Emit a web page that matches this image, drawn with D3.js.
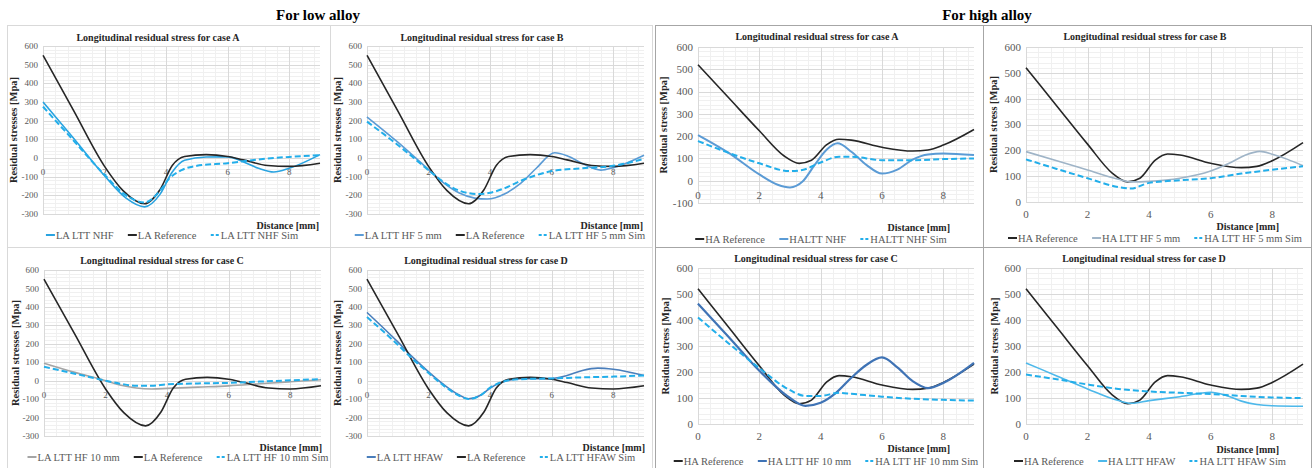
<!DOCTYPE html>
<html>
<head>
<meta charset="utf-8">
<script src="https://cdn.jsdelivr.net/npm/d3@7"></script>
<style>
  body { margin: 0; background: #fff; }
  svg { display: block; font-family: "Liberation Serif", "Times New Roman", serif; }
</style>
</head>
<body>
<div id="chart"></div>
<script>
// axis ticks
const xTicks = [0, 2, 4, 6, 8];
const laStressTicks = [-300, -200, -100, 0, 100, 200, 300, 400, 500, 600];
const haStressTicksA = [-100, 0, 100, 200, 300, 400, 500, 600];
const haStressTicks = [0, 100, 200, 300, 400, 500, 600];

// low alloy: [distance mm, stress MPa]
const laReference = [[0, 550], [1, 252], [2, -45], [2.6, -175], [3.3, -245], [3.8, -170], [4.2, -40], [4.6, 8], [5.3, 18], [6, 8], [6.5, -10], [7.3, -40], [8, -45], [9, -28]];
const laNhf = [[0, 300], [1, 105], [2, -95], [2.7, -215], [3.3, -262], [3.8, -195], [4.2, -75], [4.6, -12], [5.3, 5], [6, 6], [6.5, -20], [7, -55], [7.5, -75], [8, -55], [9, 18]];
const laNhfSim = [[0, 275], [1, 92], [2, -90], [2.7, -200], [3.3, -238], [3.8, -175], [4.1, -110], [4.5, -65], [5, -42], [6, -28], [7, -8], [8, 6], [9, 15]];
const laHf5 = [[0, 220], [1, 85], [2, -62], [2.5, -135], [3, -188], [3.5, -215], [3.9, -220], [4.5, -190], [5, -135], [5.5, -55], [6.1, 28], [6.5, 12], [7, -30], [7.6, -65], [8, -52], [9, 15]];
const laHf5Sim = [[0, 195], [1, 70], [2, -65], [2.5, -130], [3, -175], [3.6, -193], [4, -186], [4.5, -160], [5, -122], [5.5, -92], [6, -70], [7, -55], [8, -42], [9, -5]];
const laHf10 = [[0, 95], [1, 45], [2, 0], [2.5, -25], [3, -40], [3.5, -45], [4, -42], [5, -35], [6, -28], [7, -17], [8, -6], [9, 5]];
const laHf10Sim = [[0, 75], [1, 38], [2, 0], [2.5, -17], [3, -28], [3.5, -28], [4, -20], [5, -15], [6, -12], [7, -5], [8, 2], [9, 8]];
const laHfaw = [[0, 370], [1, 210], [1.5, 125], [2, 48], [2.5, -22], [3, -78], [3.3, -98], [3.7, -78], [4, -40], [4.5, -2], [5, 10], [6, 12], [6.5, 28], [7, 55], [7.5, 68], [8, 62], [9, 28]];
const laHfawSim = [[0, 345], [1, 195], [1.5, 115], [2, 42], [2.5, -28], [3, -82], [3.3, -100], [3.7, -78], [4, -38], [4.5, -2], [5, 8], [6, 12], [7, 18], [8, 22], [9, 28]];

// high alloy
const haReference = [[0, 520], [1, 372], [2, 224], [2.8, 112], [3.3, 78], [3.7, 92], [4.2, 162], [4.6, 186], [5, 182], [6, 150], [7, 133], [7.5, 138], [8, 160], [9, 230]];
const haNhf = [[0, 205], [1, 125], [2, 28], [2.6, -18], [3, -30], [3.4, -5], [3.8, 70], [4.2, 140], [4.55, 168], [5, 130], [5.5, 70], [6, 32], [6.5, 50], [7, 95], [7.5, 118], [8, 122], [9, 115]];
const haNhfSim = [[0, 178], [1, 125], [2, 78], [3, 43], [3.4, 48], [4, 82], [4.6, 108], [5, 108], [6, 92], [7, 92], [8, 97], [9, 100]];
const haHf5 = [[0, 195], [1, 160], [2, 124], [3, 88], [3.4, 78], [4, 80], [5, 92], [6, 120], [6.6, 150], [7.1, 180], [7.6, 196], [8, 185], [8.5, 165], [9, 140]];
const haHf5Sim = [[0, 165], [1, 128], [2, 92], [3, 58], [3.4, 52], [4, 74], [5, 84], [6, 92], [7, 110], [8, 125], [9, 138]];
const haHf10 = [[0, 463], [1, 335], [2, 205], [3, 100], [3.5, 70], [4, 82], [4.5, 120], [5, 178], [5.5, 228], [6, 256], [6.5, 218], [7, 165], [7.5, 138], [8, 158], [9, 235]];
const haHf10Sim = [[0, 410], [1, 310], [2, 215], [3, 130], [3.5, 108], [4, 108], [4.6, 120], [5, 116], [6, 105], [7, 97], [8, 93], [9, 90]];
const haHfaw = [[0, 235], [1, 185], [2, 135], [3, 90], [3.4, 80], [4, 90], [5, 105], [6, 122], [6.5, 110], [7, 88], [7.5, 75], [8, 70], [9, 68]];
const haHfawSim = [[0, 190], [1, 172], [2, 152], [3, 135], [4, 125], [5, 120], [6, 115], [7, 108], [8, 102], [9, 100]];

const REF = '#262626';
const SIM = '#22aeea';

const solid = (name, data, color, width) => ({ name, data, color, width: width || 1.6, dash: null });
const dashed = (name, data) => ({ name, data, color: SIM, width: 2, dash: '6,3' });

const panels = [
  // low alloy
  { box: [7, 25, 330, 247], plot: [43, 320, 46, 214], y: [-300, 600], yTicks: laStressTicks, tickFont: 9, xLabelAtZero: true,
    title: 'Longitudinal residual stress for case A', titleX: 158, titleY: 37, yLabel: 'Residual stresses [Mpa]', yLabelX: 13,
    distX: 319, distY: 225, legendX: 172, legendY: 235,
    series: [solid('LA LTT NHF', laNhf, '#29a3e0'), solid('LA Reference', laReference, REF), dashed('LA LTT NHF Sim', laNhfSim)] },
  { box: [330, 25, 652, 247], plot: [367, 644, 46, 214], y: [-300, 600], yTicks: laStressTicks, tickFont: 9, xLabelAtZero: true,
    title: 'Longitudinal residual stress for case B', titleX: 482, titleY: 37, yLabel: 'Residual stresses [Mpa]', yLabelX: 337,
    distX: 643, distY: 225, legendX: 500, legendY: 235,
    series: [solid('LA LTT HF 5 mm', laHf5, '#5b9bd5'), solid('LA Reference', laReference, REF), dashed('LA LTT HF 5 mm Sim', laHf5Sim)] },
  { box: [7, 247, 330, 470], plot: [44, 321, 270, 436], y: [-300, 600], yTicks: laStressTicks, tickFont: 9, xLabelAtZero: true,
    title: 'Longitudinal residual stress for case C', titleX: 162, titleY: 260, yLabel: 'Residual stresses [Mpa]', yLabelX: 15,
    distX: 322, distY: 447, legendX: 178, legendY: 457,
    series: [solid('LA LTT HF 10 mm', laHf10, '#a5a5a5'), solid('LA Reference', laReference, REF), dashed('LA LTT HF 10 mm Sim', laHf10Sim)] },
  { box: [330, 247, 652, 470], plot: [367, 644, 270, 436], y: [-300, 600], yTicks: laStressTicks, tickFont: 9, xLabelAtZero: true,
    title: 'Longitudinal residual stress for case D', titleX: 486, titleY: 260, yLabel: 'Residual stresses [Mpa]', yLabelX: 337,
    distX: 645, distY: 447, legendX: 501, legendY: 457,
    series: [solid('LA LTT HFAW', laHfaw, '#4a7ebb'), solid('LA Reference', laReference, REF), dashed('LA LTT HFAW Sim', laHfawSim)] },
  // high alloy
  { box: [655, 25, 983, 247], plot: [698, 974, 47, 203], y: [-100, 600], yTicks: haStressTicksA, tickFont: 11, xLabelAtZero: true,
    title: 'Longitudinal residual stress for case A', titleX: 817, titleY: 36, yLabel: 'Residual stress [Mpa]', yLabelX: 663,
    distX: 950, distY: 227, legendX: 821, legendY: 239,
    series: [solid('HA Reference', haReference, REF), solid('HALTT NHF', haNhf, '#5b9bd5', 2), dashed('HALTT NHF Sim', haNhfSim)] },
  { box: [983, 25, 1311, 247], plot: [1026, 1303, 47, 202], y: [0, 600], yTicks: haStressTicks, tickFont: 11, xLabelAtZero: false,
    title: 'Longitudinal residual stress for case B', titleX: 1145, titleY: 36, yLabel: 'Residual stress [Mpa]', yLabelX: 993,
    distX: 1279, distY: 226, legendX: 1155, legendY: 238,
    series: [solid('HA Reference', haReference, REF), solid('HA LTT HF 5 mm', haHf5, '#9fb4c7'), dashed('HA LTT HF 5 mm Sim', haHf5Sim)] },
  { box: [655, 247, 983, 470], plot: [698, 974, 268, 424], y: [0, 600], yTicks: haStressTicks, tickFont: 11, xLabelAtZero: false,
    title: 'Longitudinal residual stress for case C', titleX: 816, titleY: 258, yLabel: 'Residual stress [Mpa]', yLabelX: 665,
    distX: 950, distY: 448, legendX: 826, legendY: 461,
    series: [solid('HA Reference', haReference, REF), solid('HA LTT HF 10 mm', haHf10, '#3f73b5', 2.2), dashed('HA LTT HF 10 mm Sim', haHf10Sim)] },
  { box: [983, 247, 1311, 470], plot: [1026, 1303, 268, 424], y: [0, 600], yTicks: haStressTicks, tickFont: 11, xLabelAtZero: false,
    title: 'Longitudinal residual stress for case D', titleX: 1144, titleY: 258, yLabel: 'Residual stress [Mpa]', yLabelX: 994,
    distX: 1279, distY: 449, legendX: 1150, legendY: 461,
    series: [solid('HA Reference', haReference, REF), solid('HA LTT HFAW', haHfaw, '#4db8ea'), dashed('HA LTT HFAW Sim', haHfawSim)] },
];

const svg = d3.select('#chart').append('svg').attr('width', 1314).attr('height', 468);

// group headings
svg.append('text').attr('x', 318).attr('y', 20).attr('text-anchor', 'middle')
  .attr('font-size', 15).attr('font-weight', 'bold').text('For low alloy');
svg.append('text').attr('x', 987).attr('y', 20).attr('text-anchor', 'middle')
  .attr('font-size', 15).attr('font-weight', 'bold').text('For high alloy');

function drawPanel(p, i) {
  const g = svg.append('g');
  const isHigh = i >= 4;
  const [bx0, by0, bx1, by1] = p.box;
  g.append('rect').attr('x', bx0 + 0.5).attr('y', by0 + 0.5).attr('width', bx1 - bx0).attr('height', by1 - by0)
    .attr('fill', 'none').attr('stroke', isHigh ? '#a6a6a6' : '#d9d9d9').attr('stroke-width', 1);

  const [l, r, t, b] = p.plot;
  const x = d3.scaleLinear().domain([0, 9]).range([l, r]);
  const y = d3.scaleLinear().domain(p.y).range([b, t]);

  // minor grid
  const minorX = d3.range(0, 9.001, 0.4).filter(v => v % 2 !== 0);
  const minorY = d3.range(p.y[0], p.y[1] + 1, 20);
  g.append('g').selectAll('line').data(minorX).join('line')
    .attr('x1', d => Math.round(x(d)) + 0.5).attr('x2', d => Math.round(x(d)) + 0.5).attr('y1', t).attr('y2', b)
    .attr('stroke', '#f0f0f0');
  g.append('g').selectAll('line').data(minorY).join('line')
    .attr('y1', d => Math.round(y(d)) + 0.5).attr('y2', d => Math.round(y(d)) + 0.5).attr('x1', l).attr('x2', r)
    .attr('stroke', '#f0f0f0');
  // major grid
  g.append('g').selectAll('line').data(xTicks).join('line')
    .attr('x1', d => Math.round(x(d)) + 0.5).attr('x2', d => Math.round(x(d)) + 0.5).attr('y1', t).attr('y2', b)
    .attr('stroke', '#d9d9d9');
  g.append('g').selectAll('line').data(p.yTicks).join('line')
    .attr('y1', d => Math.round(y(d)) + 0.5).attr('y2', d => Math.round(y(d)) + 0.5).attr('x1', l).attr('x2', r)
    .attr('stroke', '#d9d9d9');

  // y tick labels
  g.append('g').selectAll('text').data(p.yTicks).join('text')
    .attr('x', l - 5).attr('y', d => y(d)).attr('dy', '0.35em').attr('text-anchor', 'end')
    .attr('font-size', p.tickFont).attr('fill', '#595959').text(d => d);
  // x tick labels (at the zero line when the axis crosses there)
  const xLabelY = p.xLabelAtZero ? y(0) + 14 : b + 12;
  g.append('g').selectAll('text').data(xTicks).join('text')
    .attr('x', d => x(d)).attr('y', xLabelY).attr('dy', '0.35em').attr('text-anchor', 'middle')
    .attr('font-size', p.tickFont).attr('fill', '#595959').text(d => d);

  // titles
  g.append('text').attr('x', p.titleX).attr('y', p.titleY).attr('dy', '0.35em').attr('text-anchor', 'middle')
    .attr('font-size', 10).attr('font-weight', 'bold').attr('fill', '#262626').text(p.title);
  g.append('text').attr('transform', `translate(${p.yLabelX},${(t + b) / 2}) rotate(-90)`).attr('dy', '0.35em')
    .attr('text-anchor', 'middle').attr('font-size', 10.5).attr('font-weight', 'bold').attr('fill', '#262626').text(p.yLabel);
  g.append('text').attr('x', p.distX).attr('y', p.distY).attr('dy', '0.35em').attr('text-anchor', 'end')
    .attr('font-size', 10).attr('font-weight', 'bold').attr('fill', '#262626').text('Distance [mm]');

  // series
  const line = d3.line().x(d => x(d[0])).y(d => y(d[1])).curve(d3.curveMonotoneX);
  g.append('g').selectAll('path').data(p.series).join('path')
    .attr('d', d => line(d.data)).attr('fill', 'none')
    .attr('stroke', d => d.color).attr('stroke-width', d => d.width)
    .attr('stroke-dasharray', d => d.dash);

  // legend
  const lg = g.append('g');
  const items = lg.selectAll('g').data(p.series).join('g');
  items.append('line').attr('x1', 0).attr('x2', 9).attr('y1', 0).attr('y2', 0)
    .attr('stroke', d => d.color).attr('stroke-width', 2)
    .attr('stroke-dasharray', d => d.dash ? '3,2' : null);
  items.append('text').attr('x', 10).attr('dy', '0.35em').attr('font-size', 10.5).attr('fill', '#595959').text(d => d.name);
  const widths = [];
  items.each(function () { widths.push(this.getBBox().width); });
  const gap = 14;
  const total = d3.sum(widths) + gap * (widths.length - 1);
  let cx = p.legendX - total / 2;
  items.attr('transform', (d, k) => {
    const tx = cx;
    cx += widths[k] + gap;
    return `translate(${tx},${p.legendY})`;
  });
}

panels.forEach(drawPanel);
</script>
</body>
</html>
